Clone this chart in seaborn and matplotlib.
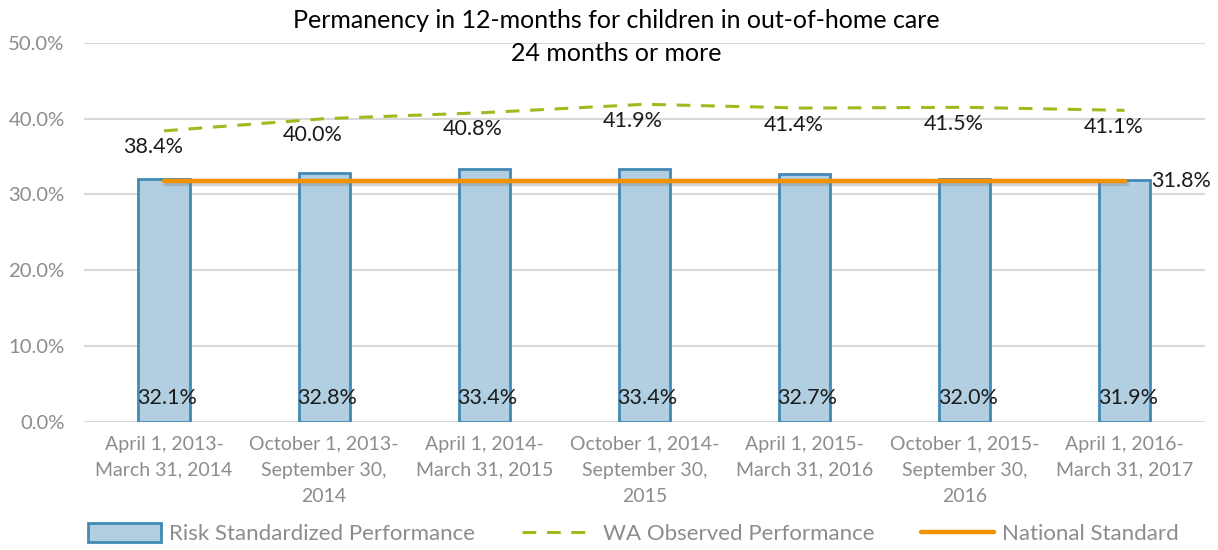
import numpy as np
import pandas as pd
import matplotlib
matplotlib.use("Agg")
import matplotlib.pyplot as plt
import matplotlib.patheffects as pe
from matplotlib.patches import Patch
from matplotlib.lines import Line2D
import seaborn as sns

categories = [
    "April 1, 2013-\nMarch 31, 2014",
    "October 1, 2013-\nSeptember 30,\n2014",
    "April 1, 2014-\nMarch 31, 2015",
    "October 1, 2014-\nSeptember 30,\n2015",
    "April 1, 2015-\nMarch 31, 2016",
    "October 1, 2015-\nSeptember 30,\n2016",
    "April 1, 2016-\nMarch 31, 2017",
]
risk_standardized = [32.1, 32.8, 33.4, 33.4, 32.7, 32.0, 31.9]
wa_observed = [38.4, 40.0, 40.8, 41.9, 41.4, 41.5, 41.1]
national_standard = [31.8] * 7
yticks = [0, 10, 20, 30, 40, 50]

sns.set_theme(style="white")
plt.rcParams["font.family"] = ["Lato", "DejaVu Sans"]

BAR_FILL = "#B1CFE1"
BAR_EDGE = "#4389B5"
GREEN = "#9DBB1E"
ORANGE = "#F39200"
GRAY = "#8C8C8C"

fig = plt.figure(figsize=(12.18, 5.5), dpi=100)
ax = fig.add_axes([0.069, 0.233, 0.92, 0.689])

df = pd.DataFrame({"period": categories, "value": risk_standardized})
sns.barplot(data=df, x="period", y="value", ax=ax, color=BAR_FILL,
            edgecolor=BAR_EDGE, linewidth=2, width=0.32, saturation=1, zorder=2)

xpos = np.arange(len(categories))
sns.lineplot(x=xpos, y=wa_observed, ax=ax, color=GREEN, linewidth=2.2,
             dashes=False, zorder=3)
ax.lines[-1].set_dashes([4.5, 3.5])

sns.lineplot(x=xpos, y=national_standard, ax=ax, color=ORANGE, linewidth=3.2, zorder=4)
ax.lines[-1].set_path_effects([pe.SimpleLineShadow(offset=(1.5, -2.5), shadow_color="#808080", alpha=0.35),
                               pe.Normal()])

for i, v in enumerate(risk_standardized):
    ax.text(i + 0.02, 3.2, f"{v:.1f}%", ha="center", va="center", fontsize=15.5, color="#1a1a1a", zorder=5)
for i, v in enumerate(wa_observed):
    ax.annotate(f"{v:.1f}%", (i, v), xytext=(-8, -12), textcoords="offset points",
                ha="center", va="center", fontsize=15.5, color="#1a1a1a")
ax.annotate(f"{national_standard[-1]:.1f}%", (len(categories) - 1, national_standard[-1]),
            xytext=(19, 0), textcoords="offset points", ha="left", va="center",
            fontsize=15.5, color="#1a1a1a")

ax.set_ylim(0, 50)
ax.set_xlim(-0.5, len(categories) - 0.5)
ax.set_yticks(yticks)
ax.set_yticklabels([f"{t:.1f}%" for t in yticks])
ax.yaxis.grid(True, color="#D9D9D9", linewidth=1.5, zorder=0)
ax.set_axisbelow(True)
for s in ax.spines.values():
    s.set_visible(False)
ax.set_xlabel("")
ax.set_ylabel("")
ax.tick_params(axis="y", length=0, pad=14, labelsize=14.6, labelcolor=GRAY)
ax.tick_params(axis="x", length=0, pad=10, labelsize=14, labelcolor=GRAY)
for lab in ax.get_xticklabels():
    lab.set_linespacing(1.65)

fig.text(0.506, 0.962, "Permanency in 12-months for children in out-of-home care",
         ha="center", va="center", fontsize=18, color="black")
fig.text(0.506, 0.902, "24 months or more", ha="center", va="center", fontsize=18, color="black")

handles = [
    Patch(facecolor=BAR_FILL, edgecolor=BAR_EDGE, linewidth=2),
    Line2D([0], [0], color=GREEN, linewidth=2.2, dashes=[4.5, 3.5]),
    Line2D([0], [0], color=ORANGE, linewidth=3.2),
]
labels = ["Risk Standardized Performance", "WA Observed Performance", "National Standard"]
leg = fig.legend(handles, labels, loc="lower center", bbox_to_anchor=(0.52, -0.026), ncol=3,
                 frameon=False, fontsize=16, handlelength=3.3, handleheight=0.9,
                 columnspacing=2.1, handletextpad=0.35, labelcolor=GRAY)

fig.savefig("out.png", dpi=100)
